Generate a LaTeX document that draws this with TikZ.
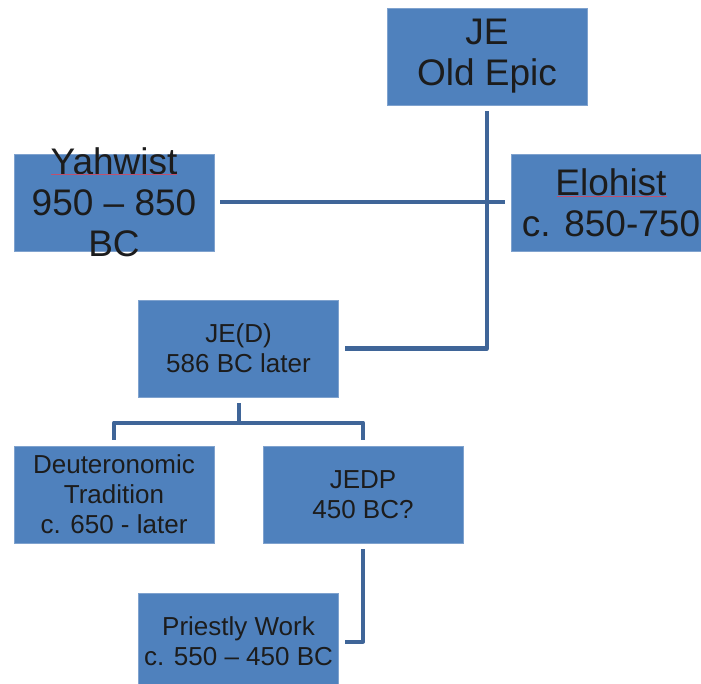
\documentclass[tikz,border=0pt]{standalone}
\usepackage{fontspec}
\setmainfont{Liberation Sans}
\usepackage{xcolor}
\usepackage{tikz}
\usetikzlibrary{calc,positioning}
\definecolor{boxblue}{HTML}{4F81BD}
\definecolor{edgeblue}{HTML}{7FA2CE}
\definecolor{linkblue}{HTML}{3F6598}
\definecolor{inkx}{HTML}{1C1C1C}
\definecolor{spellx}{HTML}{C0506E}
\tikzset{
  box/.style={fill=boxblue,draw=edgeblue,line width=0.7pt,minimum width=200,minimum height=97,inner sep=0pt,align=center,text=inkx},
  big/.style={font=\fontsize{37}{41}\selectfont},
  small/.style={font=\fontsize{26}{30}\selectfont},
  conn/.style={linkblue,line width=4pt,line join=round},
  squig/.style={spellx,line width=0.7pt}
}

\begin{document}
\begin{tikzpicture}[x=1pt,y=-1pt]
\useasboundingbox (0,0) rectangle (701,684);
\node[box,big] (je) at (487,56.5) {JE\\Old Epic};
\node[box] (yahwist) at (114,202.5) {};
\node[big,inner sep=0pt,align=center,text=inkx] (yahtxt) at (yahwist.center) {Yahwist\\950 – 850\\BC};
\node[box,big] (elohist) at (611,202.5) {Elohist\\c. 850-750};
\node[box,small] (jed) at (238.5,348.5) {JE(D)\\586 BC later};
\node[box,small] (deut) at (114,494.5) {Deuteronomic\\Tradition\\c. 650 - later};
\node[box,small] (jedp) at (363,494.5) {JEDP\\450 BC?};
\node[box,small] (priestly) at (238.5,641.5) {Priestly Work\\c. 550 – 450 BC};
\draw[squig] (51,174.5)--(177,174.5);
\draw[squig] (557,196.5)--(667,196.5);
\draw[conn] ([xshift=6]yahwist.east) -- ([xshift=-6]elohist.west);
\draw[conn] ([yshift=-6]je.south) |- ([xshift=6]jed.east);
\draw[conn] ([yshift=-6]jed.south) -- ++(0,20);
\draw[conn] ([yshift=6]deut.north) -- ++(0,-17) -| ([yshift=6]jedp.north);
\draw[conn] ([yshift=-6]jedp.south) |- ([xshift=6]priestly.east);
\end{tikzpicture}
\end{document}
